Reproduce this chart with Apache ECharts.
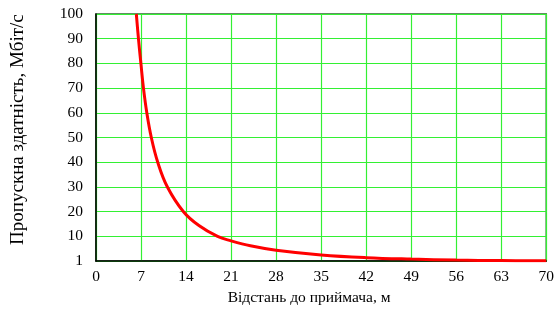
<!DOCTYPE html>
<html>
<head>
<meta charset="utf-8">
<script src="https://cdn.jsdelivr.net/npm/echarts@6/dist/echarts.min.js"></script>
<style>
  html, body { margin: 0; padding: 0; background: #fff; }
  #chart { width: 557px; height: 311px; }
</style>
</head>
<body>
<div id="chart"></div>
<script>
// відстань до приймача, м
const distance = [6.27, 6.6, 6.98, 7.38, 7.9, 8.6, 9.6, 11.1, 13.6, 16, 18.9, 21, 24, 28, 35, 42, 49, 56, 63, 70];
// пропускна здатність, Мбіт/с
const throughput = [100, 90, 80, 70, 60, 50, 40, 30, 20, 14.4, 10, 8.2, 6.2, 4.4, 2.5, 1.4, 0.8, 0.4, 0.2, 0.1];

const font = "'Liberation Serif', 'Times New Roman', serif";

const chart = echarts.init(document.getElementById('chart'));

const option = {
  animation: false,
  grid: {
    left: 96,
    right: 7,
    top: 14,
    bottom: 48,
    show: true,
    borderColor: '#2f6a2f',
    borderWidth: 1.5,
  },
  xAxis: {
    type: 'value',
    min: 0,
    max: 70,
    interval: 7,
    name: 'Відстань до приймача, м',
    nameLocation: 'middle',
    nameGap: 28,
    nameTextStyle: { fontFamily: font, fontSize: 15.5, color: '#000', verticalAlign: 'top', padding: [0, 24, 0, 0] },
    axisLine: { lineStyle: { color: '#000', width: 1.5 } },
    axisTick: { show: false },
    axisLabel: { fontFamily: font, fontSize: 15.5, color: '#000', margin: 8 },
    splitLine: { lineStyle: { color: '#33f033', width: 1.2 } },
  },
  yAxis: {
    type: 'value',
    min: 0,
    max: 100,
    interval: 10,
    name: 'Пропускна здатність, Мбіт/с',
    nameLocation: 'middle',
    nameGap: 68,
    nameTextStyle: { fontFamily: font, fontSize: 19, color: '#000', padding: [0, 0, 0, 16] },
    axisLine: { show: true, lineStyle: { color: '#000', width: 1.5 } },
    axisTick: { show: false },
    axisLabel: {
      fontFamily: font,
      fontSize: 15.5,
      color: '#000',
      margin: 13,
      formatter: v => (v === 0 ? '1' : String(v)),
    },
    splitLine: { lineStyle: { color: '#33f033', width: 1.2 } },
  },
  series: [
    {
      type: 'line',
      smooth: 0.4,
      showSymbol: false,
      lineStyle: { color: '#ff0000', width: 3 },
      data: distance.map((d, i) => [d, throughput[i]]),
    },
  ],
};

chart.setOption(option);
</script>
</body>
</html>
